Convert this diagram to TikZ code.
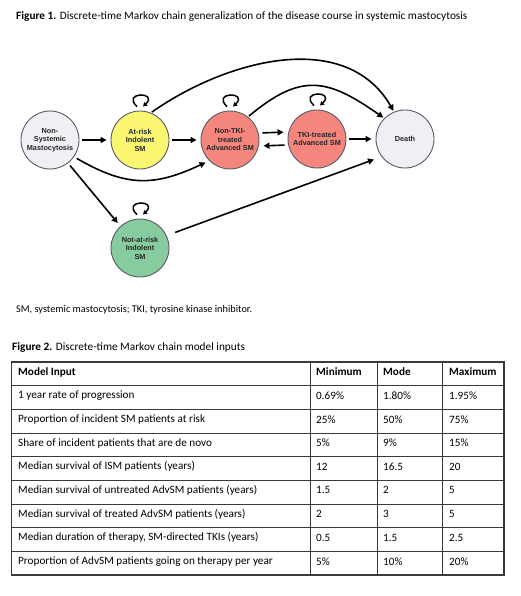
\documentclass[tikz,border=0pt]{standalone}
\usepackage{fontspec}
\setmainfont{Carlito}
\newfontfamily\statefont{Liberation Sans}
\usetikzlibrary{arrows.meta}

\definecolor{paleState}{HTML}{F0F0F4}
\definecolor{yellowState}{HTML}{FAF670}
\definecolor{redState}{HTML}{F4867D}
\definecolor{greenState}{HTML}{86CC9E}
\definecolor{rimGray}{HTML}{575C6C}
\definecolor{ruleGray}{HTML}{3A3A3A}

\begin{document}
\begin{tikzpicture}[x=1pt,y=-1pt,
state/.style={
circle,draw=rimGray,line width=0.9pt,
minimum size=58pt,inner sep=0pt,
align=center,text=black!85,
font=\statefont\bfseries\fontsize{7.3}{8.5}\selectfont
},
arrow/.style={-{Triangle[length=6pt,width=6pt]},line width=1.6pt,
shorten >=4pt,shorten <=3pt},
selfloop/.style={-{Triangle[length=4pt,width=4.5pt]},line width=1.5pt},
caption/.style={anchor=west,inner sep=0pt,font=\fontsize{11.3}{13}\selectfont},
cell/.style={anchor=west,inner sep=0pt,font=\fontsize{11.2}{13}\selectfont},
head/.style={cell,font=\bfseries\fontsize{11.2}{13}\selectfont}
]

\useasboundingbox (0,0) rectangle (520,596);

% =======================
% FIGURE 1 (MARKOV CHAIN)
% =======================

\node[caption] (cap1) at (16,17)
{\textbf{Figure 1.} Discrete-time Markov chain generalization of the disease course in systemic mastocytosis};

\node[state,fill=paleState] (nonsys) at (50,140)
{Non-\\Systemic\\Mastocytosis};

\node[state,fill=yellowState] (atrisk) at (140,140)
{At-risk\\Indolent\\SM};

\node[state,fill=redState] (nontki) at (230,140)
{Non-TKI-\\treated\\Advanced SM};

\node[state,fill=redState] (tki) at (317,139)
{TKI-treated\\Advanced SM};

\node[state,fill=paleState] (death) at (405,139)
{Death};

\node[state,fill=greenState] (notrisk) at (140,248)
{Not-at-risk\\Indolent\\SM};

% self loops
\foreach \s in {atrisk,nontki,tki,notrisk}
\draw[selfloop] ([xshift=-3pt,yshift=4pt]\s.north)
.. controls +(-16pt,15pt) and +(16pt,15pt) ..
([xshift=3pt,yshift=4pt]\s.north);

% transitions
\draw[arrow] (nonsys) -- (atrisk);
\draw[arrow] (atrisk) -- (nontki);
\draw[arrow] ([yshift=7pt]nontki.east) -- ([yshift=7pt]tki.west);
\draw[arrow] ([yshift=-6pt]tki.west) -- ([yshift=-6pt]nontki.east);
\draw[arrow] (tki) -- (death);
\draw[arrow] (nonsys.-35) to[out=-30,in=205,looseness=1.15] (nontki.225);
\draw[arrow] (nonsys.-52) -- (notrisk.132);
\draw[arrow,shorten <=9pt,shorten >=8pt] (notrisk.25) -- (death.217);
\draw[arrow,shorten <=1pt,shorten >=1pt] (atrisk.68) to[out=35,in=120] (death.112);
\draw[arrow,shorten <=1pt,shorten >=1pt] (nontki.52) to[out=40,in=145,looseness=1.3] (death.135);

\node[caption,font=\fontsize{10.3}{12}\selectfont] (abbr) at (16,310)
{SM, systemic mastocytosis; TKI, tyrosine kinase inhibitor.};

% =======================
% FIGURE 2 (INPUT TABLE)
% =======================

\node[caption] (cap2) at (12,347)
{\textbf{Figure 2.} Discrete-time Markov chain model inputs};

% grid
\foreach \r in {1,...,8}
\draw[ruleGray,line width=0.8pt] (11.5,362+23.67*\r) -- (504,362+23.67*\r);
\foreach \c in {310,377,442}
\draw[ruleGray,line width=0.8pt] (\c,362) -- (\c,575);
\draw[ruleGray,line width=1.3pt] (11.5,362) rectangle (504,575);

% header
\node[head] (h1) at (18,372) {Model Input};
\node[head] (h2) at (316,372) {Minimum};
\node[head] (h3) at (383,372) {Mode};
\node[head] (h4) at (449,372) {Maximum};

% rows
\foreach \i/\name/\lo/\md/\hi in {
1/1 year rate of progression/0.69\%/1.80\%/1.95\%,
2/Proportion of incident SM patients at risk/25\%/50\%/75\%,
3/Share of incident patients that are de novo/5\%/9\%/15\%,
4/Median survival of ISM patients (years)/12/16.5/20,
5/Median survival of untreated AdvSM patients (years)/1.5/2/5,
6/Median survival of treated AdvSM patients (years)/2/3/5,
7/{Median duration of therapy, SM-directed TKIs (years)}/0.5/1.5/2.5,
8/Proportion of AdvSM patients going on therapy per year/5\%/10\%/20\%}
{
\node[cell] (r\i c1) at (18,372+23.67*\i) {\name};
\node[cell] (r\i c2) at (316,372+23.67*\i) {\lo};
\node[cell] (r\i c3) at (383,372+23.67*\i) {\md};
\node[cell] (r\i c4) at (449,372+23.67*\i) {\hi};
}

\end{tikzpicture}
\end{document}
